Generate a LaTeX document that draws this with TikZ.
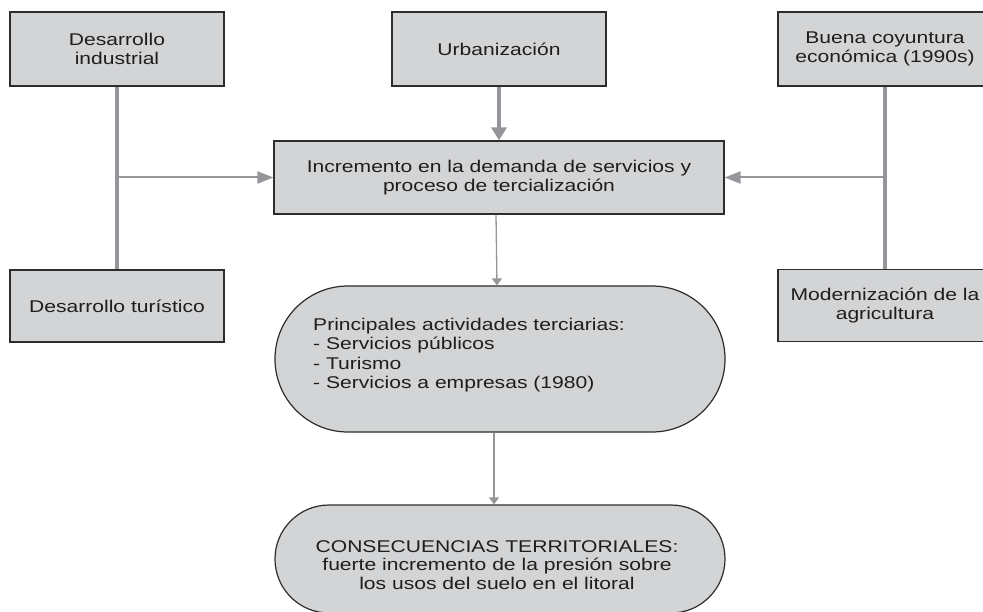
\documentclass[tikz,border=0pt]{standalone}
\usepackage{fontspec}
\setmainfont[FakeStretch=1.24]{Liberation Sans}
\usetikzlibrary{positioning}
\usetikzlibrary{arrows.meta}
\definecolor{boxfill}{RGB}{211,212,214}
\definecolor{linkgray}{RGB}{148,150,153}
\definecolor{edgedark}{RGB}{45,45,45}
\definecolor{textdark}{RGB}{30,30,30}
\tikzset{x=1pt, y=-1pt, % One unit is one pixel of the layout
factor/.style={ % Rectangular boxes
draw=edgedark,
line width=1.2pt,
fill=boxfill,
minimum width=214pt,
minimum height=74pt,
inner sep=0pt,
align=center,
text=textdark,
font={\fontsize{17}{18.5}\selectfont}},
pill/.style={ % Rounded result shapes
draw=edgedark,
line width=1.2pt,
fill=boxfill,
minimum width=450pt},
pilltext/.style={ % Text set inside the rounded shapes
inner sep=0pt,
text=textdark,
font={\fontsize{17}{19.3}\selectfont}},
bar/.style={draw=linkgray, line width=4.5pt}, % Thick joining bars
feed/.style={ % Side arrows
draw=linkgray,
line width=2pt,
-{Triangle[length=16pt,width=12pt]}},
push/.style={ % Thick arrow from above
draw=linkgray,
line width=4.5pt,
-{Triangle[length=13pt,width=15pt]}},
flow/.style={ % Thin arrows downwards
draw=linkgray,
line width=1.3pt,
-{Triangle[length=7pt,width=10pt]}}}

\begin{document}
\begin{tikzpicture}
                \useasboundingbox (0,0) rectangle (983,612);

                \node[factor] (indus) at (117,49) {Desarrollo\\industrial};
                \node[factor] (urban) at (499,49) {Urbanización};
                \node[factor] (coyun) at (885,49) {Buena coyuntura\\económica (1990s)};
                \node[factor, minimum width=450pt, minimum height=73pt] (demand) at (499,177.5) {Incremento en la demanda de servicios y\\proceso de tercialización};
                \node[factor, minimum height=72pt] (turis) at (117,306) {Desarrollo turístico};
                \node[factor, minimum height=72pt] (agri) at (885,305.5) {Modernización de la\\agricultura};

                \node[pill, minimum height=146pt, rounded corners=73pt] (tertiary) at (500,359) {};
                \node[pilltext, anchor=west, align=left] (tertlist) at (313,355) {Principales actividades terciarias:\\- Servicios públicos\\- Turismo\\- Servicios a empresas (1980)};
                \node[pill, minimum height=108pt, rounded corners=54pt] (conseq) at (500,559) {};
                \node[pilltext, align=center, font={\fontsize{17}{18.5}\selectfont}] (conseqtext) at (497,565) {CONSECUENCIAS TERRITORIALES:\\fuerte incremento de la presión sobre\\los usos del suelo en el litoral};

                \draw[bar] (indus) -- (turis);
                \draw[bar] (coyun) -- (agri);
                \draw[feed] (indus.south |- demand.west) -- (demand.west);
                \draw[feed] (coyun.south |- demand.east) -- (demand.east);
                \draw[push] (urban) -- (demand);
                \draw[flow] ([xshift=-3pt]demand.south) -- ([xshift=-3pt]tertiary.north);
                \draw[flow] ([xshift=-6pt]tertiary.south) -- ([xshift=-6pt]conseq.north);

\end{tikzpicture}
\end{document}
